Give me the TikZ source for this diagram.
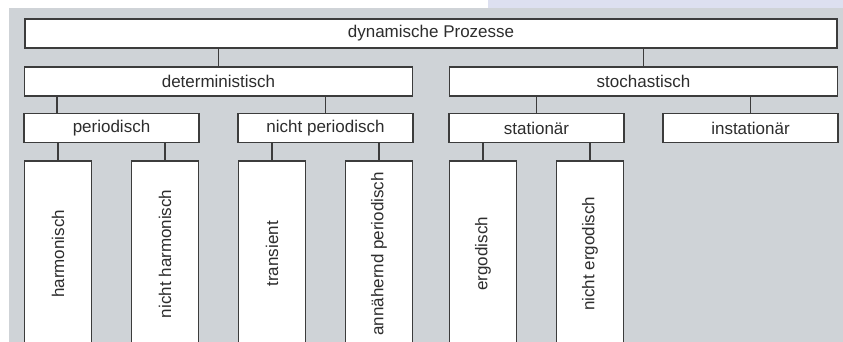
\documentclass[tikz,border=0pt]{standalone}
\usepackage{fontspec}
\setmainfont{Liberation Sans}
\usetikzlibrary{calc}
\definecolor{bggray}{RGB}{207,211,215}
\definecolor{bgblue}{RGB}{221,224,240}
\definecolor{boxline}{RGB}{60,60,60}
\definecolor{boxtext}{RGB}{45,45,45}
\begin{document}
\begin{tikzpicture}[
  x=1pt, y=1pt, grow=down, minimum height=29pt,
  every node/.style={draw=boxline, line width=1.6pt, fill=white, text=boxtext,
    inner sep=0pt, font=\fontsize{17}{20}\selectfont},
  edge from parent/.style={draw=boxline, line width=1.6pt},
  edge from parent path={(\tikzparentnode.south -| \tikzchildnode.north)
    -- (\tikzchildnode.north)},
  level 1/.style={level distance=48pt, sibling distance=425pt, minimum width=388pt},
  level 2/.style={level distance=46.5pt, sibling distance=214pt, minimum width=175pt},
  level 3/.style={level distance=32pt, sibling distance=107pt, minimum width=67pt,
    minimum height=186pt, anchor=north}
]
\useasboundingbox (0,0) rectangle (843,-342);
\fill[bggray] (9,-8) rectangle (843,-342);
\fill[bgblue] (488,0) rectangle (843,-8);

\node[minimum width=812pt] (dyn) at (431,-33.5) {dynamische Prozesse}
  child { node (det) {deterministisch}
    child[edge from parent path={($(\tikzparentnode.south -| \tikzchildnode.north west)+(34pt,0)$)
      -- ($(\tikzchildnode.north west)+(34pt,0)$)}] { node (per) {periodisch}
      child { node (harm) {\rotatebox{90}{harmonisch}} }
      child { node (nharm) {\rotatebox{90}{nicht harmonisch}} }
    }
    child { node (nper) {nicht periodisch}
      child { node (trans) {\rotatebox{90}{transient}} }
      child { node (anper) {\rotatebox{90}{annähernd periodisch}} }
    }
  }
  child { node (sto) {stochastisch}
    child { node (stat) {stationär}
      child { node (erg) {\rotatebox{90}{ergodisch}} }
      child { node (nerg) {\rotatebox{90}{nicht ergodisch}} }
    }
    child { node (inst) {instationär} }
  };
\end{tikzpicture}
\end{document}
